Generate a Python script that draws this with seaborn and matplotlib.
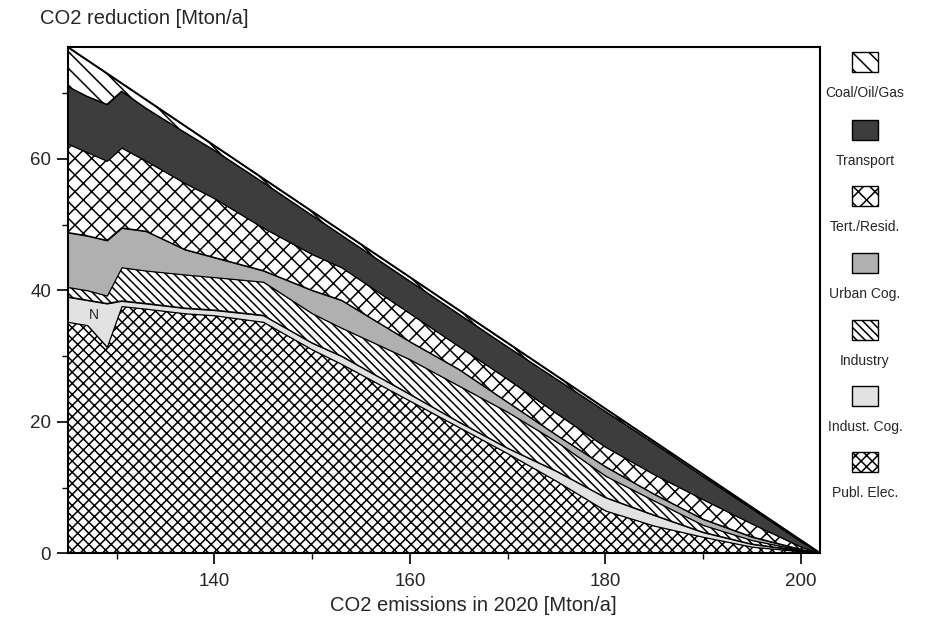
import numpy as np
import pandas as pd
import matplotlib
matplotlib.use("Agg")
import matplotlib.pyplot as plt
from matplotlib.patches import Rectangle
import seaborn as sns

# CO2 emissions in 2020 [Mton/a] (x) and reduction per sector [Mton/a]
emissions = [125, 127, 129, 130.5, 133, 137, 140, 145, 150, 153, 160, 165, 170, 175, 180, 185, 190, 195, 200, 202]
publ_elec = [35.2, 34.7, 31.4, 37.6, 37.2, 36.5, 36.2, 35.2, 31.0, 28.8, 23.2, 19.2, 15.2, 11.0, 6.5, 4.2, 2.5, 1.0, 0.3, 0]
indust_cog = [3.8, 3.8, 6.6, 0.8, 0.8, 0.8, 0.8, 1.0, 1.0, 1.2, 1.0, 0.8, 0.8, 1.5, 2.0, 1.6, 0.7, 0.4, 0.1, 0]
industry = [1.5, 1.5, 1.2, 5.1, 5.0, 5.1, 5.0, 5.1, 4.5, 4.3, 5.3, 5.5, 5.5, 4.5, 3.3, 2.2, 1.1, 0.6, 0.1, 0]
urban_cog = [8.3, 8.3, 8.4, 6.0, 6.0, 3.8, 3.0, 1.7, 3.5, 4.2, 2.7, 2.5, 1.5, 1.0, 1.4, 1.0, 0.9, 0.5, 0.1, 0]
tert_resid = [13.5, 12.7, 12.1, 12.2, 10.7, 10.1, 9.0, 6.5, 5.5, 5.0, 4.3, 3.5, 3.5, 3.3, 3.0, 3.0, 3.0, 2.0, 0.4, 0]
transport = [8.7, 8.5, 8.6, 8.6, 8.0, 7.7, 7.3, 6.9, 5.9, 4.9, 4.9, 4.9, 4.9, 5.2, 5.4, 4.7, 3.5, 2.3, 0.8, 0]
coal_oil_gas = [6.0, 5.5, 4.7, 1.2, 1.3, 1.0, 0.7, 0.6, 0.6, 0.6, 0.6, 0.6, 0.6, 0.5, 0.4, 0.3, 0.3, 0.2, 0.2, 0]

x_ticks = [140, 160, 180, 200]
y_ticks = [0, 20, 40, 60]

# stacking order bottom -> top, with fill style
layers = [
    ("Publ. Elec.", publ_elec, "white", "xxx"),
    ("Indust. Cog.", indust_cog, "#e2e2e2", None),
    ("Industry", industry, "white", "\\\\\\\\"),
    ("Urban Cog.", urban_cog, "#b0b0b0", None),
    ("Tert./Resid.", tert_resid, "white", "xx"),
    ("Transport", transport, "#3d3d3d", None),
    ("Coal/Oil/Gas", coal_oil_gas, "white", "\\\\"),
]

df = pd.DataFrame({"emissions": emissions})
for name, vals, _, _ in layers:
    df[name] = vals

sns.set_theme(style="ticks")
plt.rcParams["font.family"] = ["Liberation Sans", "DejaVu Sans"]
plt.rcParams["hatch.linewidth"] = 1.1
plt.rcParams["hatch.color"] = "black"

fig = plt.figure(figsize=(9.29, 6.28), dpi=100)
ax = fig.add_axes([0.073, 0.119, 0.81, 0.806])

lower = np.zeros(len(df))
for name, _, face, hatch in layers:
    upper = lower + df[name].to_numpy()
    ax.fill_between(df["emissions"], lower, upper, facecolor=face, hatch=hatch,
                    edgecolor="black", linewidth=0.9)
    lower = upper

df["total"] = lower
sns.lineplot(data=df, x="emissions", y="total", color="black", linewidth=1.4, ax=ax)

ax.text(127.7, 36.3, "N", fontsize=10, ha="center", va="center")

ax.set_xlim(125, 202)
ax.set_ylim(0, 77)
ax.set_xticks(x_ticks)
ax.set_xticks([130, 150, 170, 190], minor=True)
ax.set_yticks(y_ticks)
ax.set_yticks([10, 30, 50, 70], minor=True)
ax.tick_params(which="major", direction="out", length=8, width=1.2, labelsize=13.5, pad=6, color="black")
ax.tick_params(axis="y", which="major", pad=4)
ax.tick_params(which="minor", direction="out", length=4, width=1.0, color="black")
for s in ax.spines.values():
    s.set_visible(True)
    s.set_color("black")
    s.set_linewidth(1.5)
ax.set_xlabel("")
ax.set_ylabel("")

fig.text(0.043, 0.971, "CO2 reduction [Mton/a]", fontsize=14.5, ha="left", va="center")
fig.text(0.51, 0.036, "CO2 emissions in 2020 [Mton/a]", fontsize=14.5, ha="center", va="center")

# legend: swatch above label, top to bottom
cx = 0.931
w, h = 0.028, 0.032
patch_y = [62, 130, 196, 263, 330, 396, 462]
for (name, _, face, hatch), py in zip(reversed(layers), patch_y):
    yc = 1 - py / 628
    fig.add_artist(Rectangle((cx - w / 2, yc - h / 2), w, h, transform=fig.transFigure,
                             facecolor=face, hatch=hatch, edgecolor="black", linewidth=1.0))
    fig.text(cx, 1 - (py + 31) / 628, name, fontsize=10, ha="center", va="center")

fig.savefig("out.png", dpi=100)
